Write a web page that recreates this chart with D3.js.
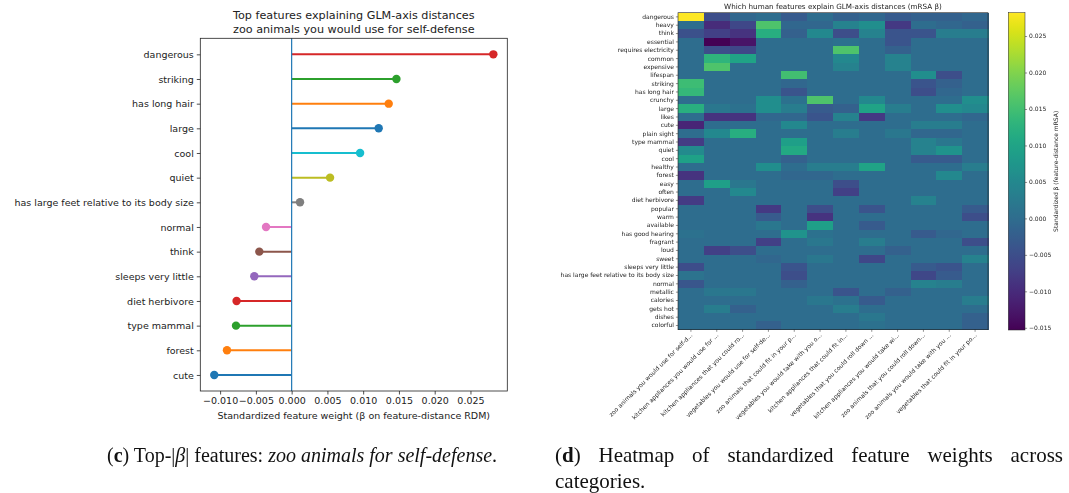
<!DOCTYPE html>
<html><head><meta charset="utf-8">
<script src="https://cdn.jsdelivr.net/npm/d3@7"></script>
<style>
body{margin:0;background:#fff}
svg{display:block;font-family:"DejaVu Sans",sans-serif}
.gray{opacity:0.999;will-change:opacity}
</style></head><body>
<svg id="fig" width="1069" height="493"></svg>
<script>
// panel (c): top features, listed top to bottom
const features=["dangerous","striking","has long hair","large","cool","quiet","has large feet relative to its body size","normal","think","sleeps very little","diet herbivore","type mammal","forest","cute"];
const betas=[0.0282,0.01465,0.01357,0.01217,0.00957,0.00537,0.00117,-0.00358,-0.00452,-0.00522,-0.0077,-0.00778,-0.00904,-0.01082];
const xTicks=[-0.010,-0.005,0,0.005,0.010,0.015,0.020,0.025];

// panel (d): heatmap
const rowLabels=["dangerous","heavy","think","essential","requires electricity","common","expensive","lifespan","striking","has long hair","crunchy","large","likes","cute","plain sight","type mammal","quiet","cool","healthy","forest","easy","often","diet herbivore","popular","warm","available","has good hearing","fragrant","loud","sweet","sleeps very little","has large feet relative to its body size","normal","metallic","calories","gets hot","dishes","colorful"];
const colLabels=["zoo animals you would use for self-d...","kitchen appliances you would use for ...","kitchen appliances that you could ro...","vegetables you would use for self-de...","zoo animals that could fit in your p...","vegetables you would take with you o...","kitchen appliances that could fit in...","vegetables that you could roll down ...","kitchen appliances you would take wi...","zoo animals that you could roll down...","zoo animals you would take with you ...","vegetables that could fit in your po..."];
const heat=[
[0.0282,-0.005,-0.001,0,-0.003,0,-0.002,-0.001,-0.003,-0.002,-0.002,-0.001],
[0,-0.010,-0.006,0.016,-0.001,-0.001,0.004,0.006,-0.008,0,-0.001,-0.002],
[-0.0045,-0.007,-0.009,0.012,-0.002,0.005,-0.005,0.004,-0.004,-0.004,0.003,0.003],
[0,-0.0153,-0.013,0,0,0,0.001,0,-0.004,0,0,0],
[0,-0.005,-0.006,0,0,0,0.016,0,-0.002,0,0,0],
[0,0.013,0.010,0,0,0,0.005,0,0.004,0,0,0],
[0,0.016,0,0,0,0,0.004,0,0.004,0,0,0],
[0,0,0,0,0.015,0,0,0,0,0.006,-0.005,0],
[0.0146,0,0,0,-0.001,0,0,0,0,-0.004,-0.002,0],
[0.0136,0,0,0,-0.004,0,0,0,0,-0.005,-0.001,0],
[0,0,0,0.006,0.001,0.016,0,0.005,0,0,0,0.006],
[0.0122,0.002,0.001,0.006,0.003,-0.003,-0.002,0.010,0.003,0,0.006,0.005],
[0,-0.009,-0.009,-0.001,-0.001,-0.004,0.004,-0.008,0,0,0,-0.001],
[-0.0108,0,0,0,0.005,0,0,0,0,0.003,0.003,0],
[0,0.005,0.012,0,0,0,0.003,0,0.002,-0.001,-0.001,0],
[-0.0078,0,0,0,0.009,0,0,0,0,0.004,0.002,0],
[0.0054,0,0,0,0.011,0,0,0,0,0.004,0.007,0],
[0.0096,0,0,0,-0.002,0,0,0,0,-0.003,-0.003,0],
[0,0,0,0.006,0,0.003,0.003,0.010,0,0,0,0.003],
[-0.009,0,0,0,-0.001,-0.001,0,0,0,0,0.005,0],
[0,0.009,0.002,0,0,0,-0.005,0,0,0,0,0],
[0,0,0.005,0,0,0,-0.007,0,0,0,0,0],
[-0.0077,0,0,0,0,0,0,0,0,0.004,0,0],
[0,0,0,-0.008,0,-0.005,0,-0.004,0,0,0,-0.003],
[0,0,0,-0.003,0,-0.009,0,0,0,0,0,-0.005],
[0,0,0,0.002,0,0.009,0,-0.003,0,0,0,0],
[0.001,0,0,0,0.007,0.001,0,0,0,-0.003,-0.001,0],
[0,0,0,-0.007,0,0.002,0,0.003,0,0,0,-0.005],
[0,-0.007,-0.005,0,0,0,0,0,-0.002,0,0,0],
[0,0,0,-0.001,0,0.002,0,-0.006,0,0,0,0.004],
[-0.0052,0,0,0,-0.004,0,0,0,0,-0.003,-0.004,0],
[0.0012,0,0,0,-0.005,0,0,0,0,-0.006,-0.003,0],
[-0.0036,0,0,0,-0.002,0,0,0,0,0.004,0.003,0],
[0,0.002,0.002,0,0,0,-0.004,0,-0.002,0,0,0],
[0,0,0,0,0,0.002,0.001,-0.003,0,0,0,0.003],
[0,0.003,-0.002,0,0,0,0.003,0,0,0,0,0],
[0,0,0,0,0,0,0,0.002,0,0,0,-0.002],
[0,0,0,-0.002,0,0,0,0.001,0,0,0,-0.002]
];
const cbTicks=[-0.015,-0.010,-0.005,0,0.005,0.010,0.015,0.020,0.025];

const svg=d3.select("#fig");
svg.append("rect").attr("width",1069).attr("height",493).attr("fill","#fff");
const ink="#222";

// ---------- left: lollipop ----------
const L={x0:200.3,x1:507.3,y0:38.3,y1:391};
const ext=d3.extent(betas.concat([0])),pad=(ext[1]-ext[0])*0.05;
const x=d3.scaleLinear().domain([ext[0]-pad,ext[1]+pad]).range([L.x0,L.x1]);
const y=d3.scalePoint().domain(features).range([L.y0,L.y1]).padding(0.65);
const col=(i)=>d3.schemeCategory10[(features.length-1-i)%10];

const left=svg.append("g");
left.selectAll("line.stem").data(betas).join("line").attr("class","stem")
  .attr("x1",x(0)).attr("x2",d=>x(d))
  .attr("y1",(d,i)=>y(features[i])).attr("y2",(d,i)=>y(features[i]))
  .attr("stroke",(d,i)=>col(i)).attr("stroke-width",2);
left.append("line").attr("x1",x(0)).attr("x2",x(0)).attr("y1",L.y0).attr("y2",L.y1)
  .attr("stroke","#1f77b4").attr("stroke-width",1.2);
left.selectAll("circle").data(betas).join("circle")
  .attr("cx",d=>x(d)).attr("cy",(d,i)=>y(features[i])).attr("r",4.2)
  .attr("fill",(d,i)=>col(i));

const xa=left.append("g").attr("transform",`translate(0,${L.y1})`)
  .call(d3.axisBottom(x).tickValues(xTicks).tickFormat(d3.format(".3f")).tickSize(3.5).tickPadding(3).tickSizeOuter(0));
const ya=left.append("g").attr("transform",`translate(${L.x0},0)`)
  .call(d3.axisLeft(y).tickSize(3.5).tickPadding(3).tickSizeOuter(0));
[xa,ya].forEach(a=>{a.select(".domain").remove();a.selectAll("text").attr("font-size",9.5).attr("fill",ink).attr("font-family","DejaVu Sans");a.selectAll("line").attr("stroke",ink).attr("stroke-width",0.8);});
left.append("rect").attr("x",L.x0).attr("y",L.y0).attr("width",L.x1-L.x0).attr("height",L.y1-L.y0)
  .attr("fill","none").attr("stroke",ink).attr("stroke-width",0.8);
left.append("text").attr("x",(L.x0+L.x1)/2).attr("y",19).attr("text-anchor","middle").attr("font-size",11.2).attr("fill",ink)
  .text("Top features explaining GLM-axis distances");
left.append("text").attr("x",(L.x0+L.x1)/2).attr("y",33).attr("text-anchor","middle").attr("font-size",11.2).attr("fill",ink)
  .text("zoo animals you would use for self-defense");
left.append("text").attr("x",(L.x0+L.x1)/2).attr("y",419).attr("text-anchor","middle").attr("font-size",9.5).attr("fill",ink)
  .text("Standardized feature weight (β on feature-distance RDM)");

// ---------- right: heatmap ----------
const H={x0:678,x1:988,y0:12.7,y1:329.7};
const hx=d3.scaleBand().domain(colLabels).range([H.x0,H.x1]);
const hy=d3.scaleBand().domain(rowLabels).range([H.y0,H.y1]);
const color=d3.scaleSequential(d3.interpolateViridis).domain(d3.extent(heat.flat()));
const right=svg.append("g");
const cells=right.append("g").attr("shape-rendering","crispEdges");
heat.forEach((row,r)=>{
  cells.selectAll(null).data(row).join("rect")
    .attr("x",(d,c)=>hx(colLabels[c])).attr("y",hy(rowLabels[r]))
    .attr("width",hx.bandwidth()+0.6).attr("height",hy.bandwidth()+0.6)
    .attr("fill",d=>color(d));
});
right.append("rect").attr("x",H.x0).attr("y",H.y0).attr("width",H.x1-H.x0).attr("height",H.y1-H.y0)
  .attr("fill","none").attr("stroke",ink).attr("stroke-width",0.6);
const small=right.append("g").attr("class","gray");
const hya=small.append("g").attr("transform",`translate(${H.x0},0)`)
  .call(d3.axisLeft(hy).tickSize(2.1).tickPadding(2).tickSizeOuter(0));
const hxa=small.append("g").attr("transform",`translate(0,${H.y1})`)
  .call(d3.axisBottom(hx).tickSize(2.1).tickSizeOuter(0));
[hya,hxa].forEach(a=>{a.select(".domain").remove();a.selectAll("line").attr("stroke",ink).attr("stroke-width",0.5);a.selectAll("text").attr("font-size",6).attr("fill",ink).attr("font-family","DejaVu Sans");});
hxa.selectAll("text").attr("text-anchor","end").attr("dy",null).attr("y",null)
  .attr("transform","translate(2,6) rotate(-45)");
small.append("text").attr("x",(H.x0+H.x1)/2).attr("y",8.5).attr("text-anchor","middle").attr("font-size",7.2).attr("fill",ink)
  .text("Which human features explain GLM-axis distances (mRSA β)");

// colorbar
const C={x0:1008.3,x1:1025,y0:12.7,y1:330};
const cy=d3.scaleLinear().domain(color.domain()).range([C.y1,C.y0]);
const grad=svg.append("defs").append("linearGradient").attr("id","vir").attr("x1",0).attr("x2",0).attr("y1",1).attr("y2",0);
d3.range(0,1.0001,0.02).forEach(t=>grad.append("stop").attr("offset",t).attr("stop-color",d3.interpolateViridis(t)));
right.append("rect").attr("x",C.x0).attr("y",C.y0).attr("width",C.x1-C.x0).attr("height",C.y1-C.y0)
  .attr("fill","url(#vir)").attr("stroke",ink).attr("stroke-width",0.5);
const cba=small.append("g").attr("transform",`translate(${C.x1},0)`)
  .call(d3.axisRight(cy).tickValues(cbTicks).tickFormat(d3.format(".3f")).tickSize(2.1).tickPadding(2).tickSizeOuter(0));
cba.select(".domain").remove();
cba.selectAll("line").attr("stroke",ink).attr("stroke-width",0.5);
cba.selectAll("text").attr("font-size",6).attr("fill",ink).attr("font-family","DejaVu Sans");
small.append("text").attr("transform",`translate(1058,${(C.y0+C.y1)/2}) rotate(-90)`).attr("text-anchor","middle")
  .attr("font-size",6).attr("fill",ink).text("Standardized β (feature-distance mRSA)");

// ---------- captions ----------
const cap=svg.append("g").attr("font-family","'Liberation Serif',serif").attr("font-size",20).attr("fill","#111");
const c1=cap.append("text").attr("x",107).attr("y",462);
c1.append("tspan").text("(");c1.append("tspan").attr("font-weight","bold").text("c");c1.append("tspan").text(") Top-|");
c1.append("tspan").attr("font-style","italic").text("β");c1.append("tspan").text("| features: ");
c1.append("tspan").attr("font-style","italic").text("zoo animals for self-defense");c1.append("tspan").text(".");
const c2=cap.append("text").attr("x",555).attr("y",462).attr("font-size",21);
c2.append("tspan").text("(");c2.append("tspan").attr("font-weight","bold").text("d");
c2.append("tspan").text(") Heatmap of standardized feature weights across");
// justified first line, as in the paper
const gaps=6,natural=c2.node().getComputedTextLength();
c2.attr("word-spacing",Math.max(0,(1063-555-natural)/gaps));
cap.append("text").attr("x",555).attr("y",488).attr("font-size",21).text("categories.");
</script></body></html>
